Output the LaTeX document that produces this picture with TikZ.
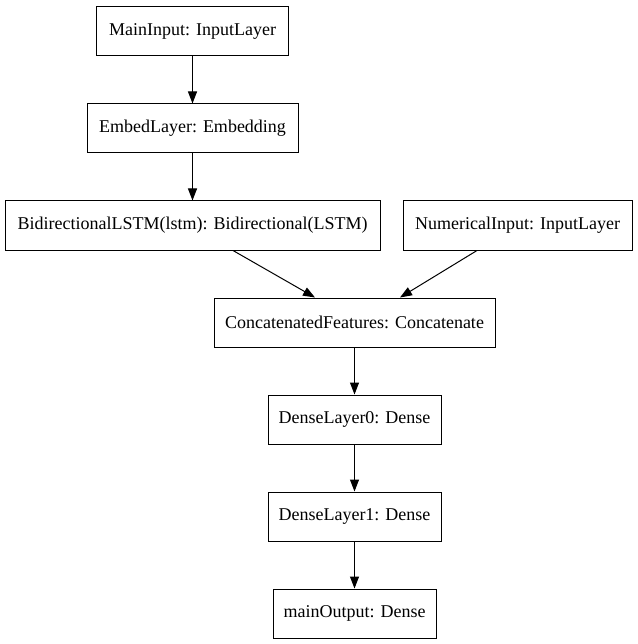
\documentclass[tikz,border=0pt]{standalone}
\usepackage{fontspec}
\setmainfont{Liberation Serif}
\usetikzlibrary{arrows.meta}
\begin{document}
\begin{tikzpicture}[x=1pt,y=-1pt,
  layer/.style={draw,line width=1pt,inner sep=0pt,minimum height=49pt,font=\fontsize{18}{20}\selectfont},
  edge/.style={line width=1pt,-{Triangle[length=12pt,width=9pt]}}]
\useasboundingbox (0,0) rectangle (637,644);
\node[layer,minimum width=192pt] (mi) at (192.5,31.5) {MainInput: InputLayer};
\node[layer,minimum width=211pt] (em) at (192.5,128.5) {EmbedLayer: Embedding};
\node[layer,minimum width=375pt] (bl) at (192.5,225.5) {BidirectionalLSTM(lstm): Bidirectional(LSTM)};
\node[layer,minimum width=229pt] (ni) at (517.5,225.5) {NumericalInput: InputLayer};
\node[layer,minimum width=281pt] (cf) at (354.5,322.5) {ConcatenatedFeatures: Concatenate};
\node[layer,minimum width=173pt] (d0) at (354.5,419.5) {DenseLayer0: Dense};
\node[layer,minimum width=173pt] (d1) at (354.5,516.5) {DenseLayer1: Dense};
\node[layer,minimum width=163pt] (mo) at (354.5,613.5) {mainOutput: Dense};
\draw[edge] (mi) -- (em);
\draw[edge] (em) -- (bl);
\draw[edge] (bl.south -| 233,0) -- (cf.north -| 315,0);
\draw[edge] (ni.south -| 477,0) -- (cf.north -| 400,0);
\draw[edge] (cf) -- (d0);
\draw[edge] (d0) -- (d1);
\draw[edge] (d1) -- (mo);
\end{tikzpicture}
\end{document}
